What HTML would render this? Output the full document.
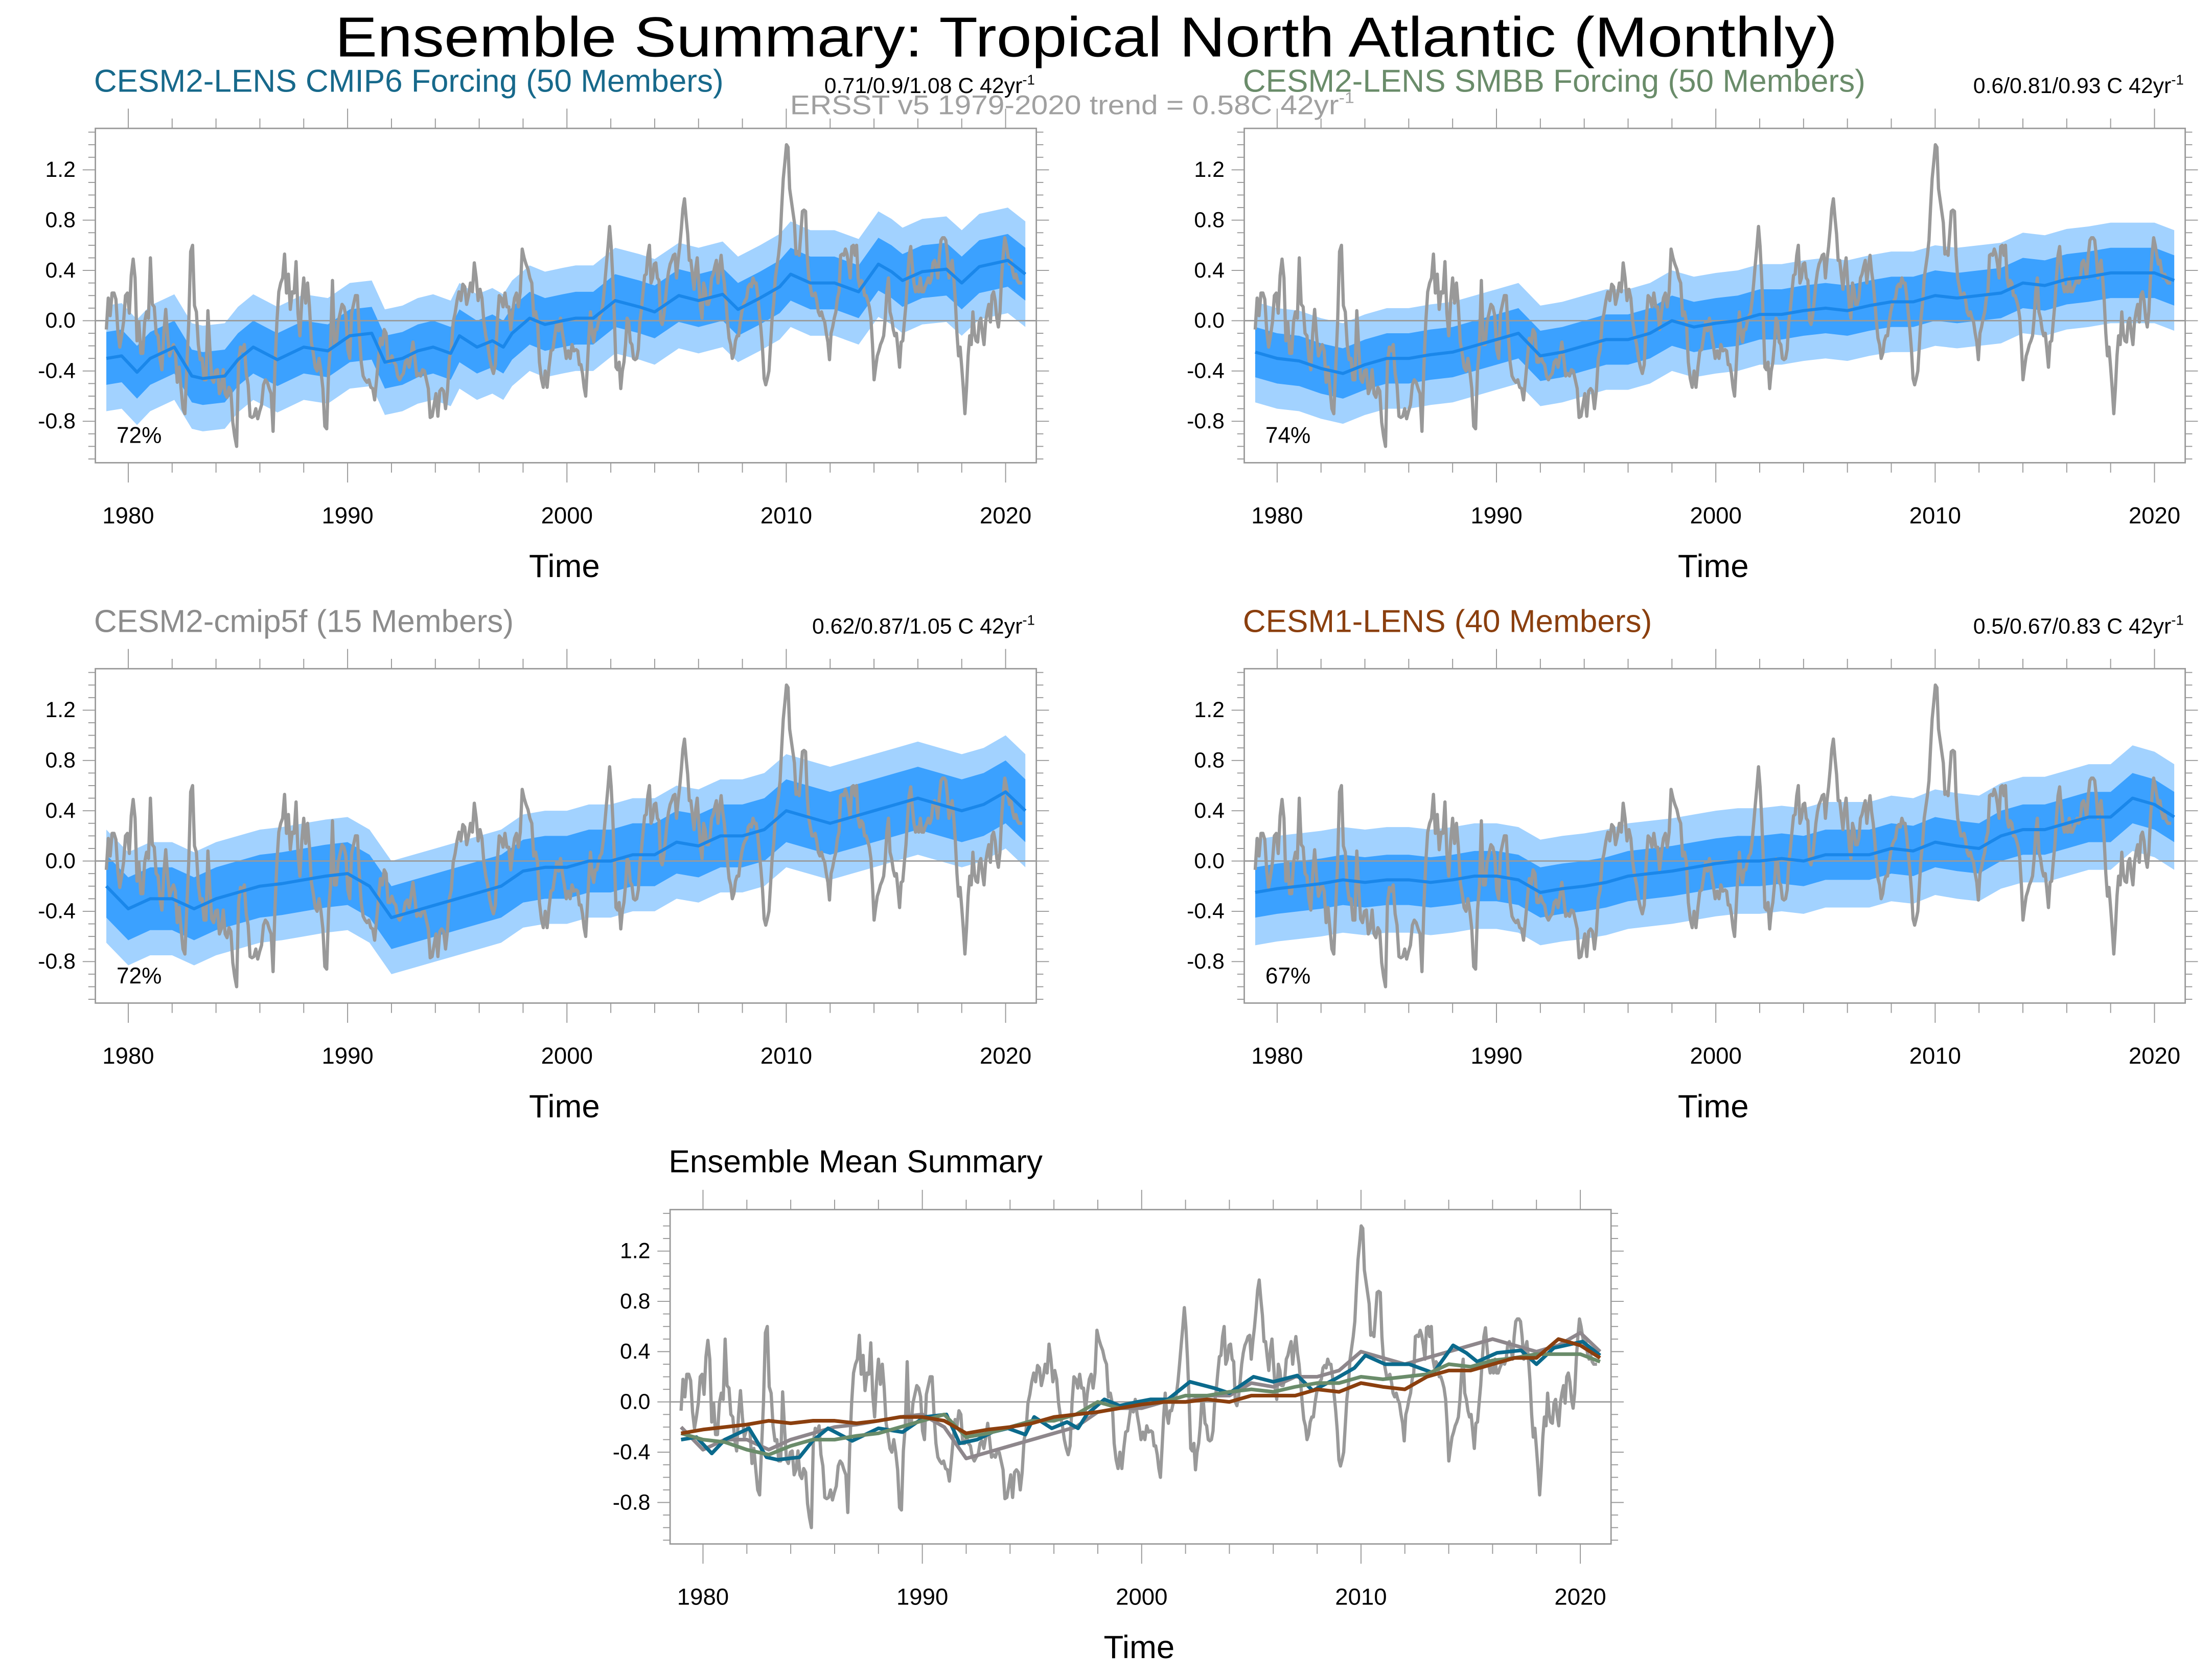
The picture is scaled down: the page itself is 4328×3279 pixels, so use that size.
<!DOCTYPE html>
<html><head><meta charset="utf-8">
<style>
html,body{margin:0;padding:0;background:#fff;}
svg{display:block;font-family:"Liberation Sans",Arial,sans-serif;}
</style></head>
<body>
<svg id="fig" xmlns="http://www.w3.org/2000/svg" width="4328" height="3279" viewBox="0 0 1568 1188" preserveAspectRatio="none">
<rect x="0" y="0" width="1568" height="1188" fill="#fff"/>
<text x="770" y="40" font-size="40" text-anchor="middle" textLength="1065" lengthAdjust="spacingAndGlyphs">Ensemble Summary: Tropical North Atlantic (Monthly)</text>
<text x="560" y="81" font-size="19" fill="#a0a0a0" textLength="400" lengthAdjust="spacingAndGlyphs">ERSST v5 1979-2020 trend = 0.58C 42yr<tspan font-size="11" dy="-8">-1</tspan></text>
<g id="panels"></g>
</svg>
<script>
// ---- data ----
const xTickLabels = ["1980","1990","2000","2010","2020"];
const yTickLabels = ["-0.8","-0.4","0.0","0.4","0.8","1.2"];
const obsEarly = [-0.07,0.18,0.04,0.22,0.22,0.17,-0.08,-0.21,-0.12,-0.01,0.2,0.22,0.06,0.36,0.49,0.34,-0.16,-0.01,-0.26,-0.26,-0.01,0.07,0.02,0.5,0.13,0.11,-0.1,-0.12,-0.3,-0.39,-0.1,0.09,-0.12,-0.28,-0.23,-0.19,-0.24,-0.49,-0.37,-0.54,-0.7,-0.74,-0.37,-0.01,0.55,0.6,0.12,0.07,-0.19,-0.31,-0.3,-0.47,-0.47,0.08,-0.21,-0.46,-0.49,-0.4,-0.39,-0.58,-0.54,-0.39,-0.58,-0.61,-0.53,-0.56,-0.81,-0.92,-1.0,-0.33,-0.21,-0.24,-0.19,-0.42,-0.51,-0.76,-0.77,-0.76,-0.7,-0.78,-0.72,-0.67,-0.51,-0.47,-0.49,-0.54,-0.58,-0.88,-0.37,-0.01,0.23,0.3,0.34,0.53,0.22,0.37,0.09,0.23,0.22,0.47,0.06,-0.12,0.16,0.34,0.14,0.3,0.11,-0.17,-0.26,-0.37,-0.4,-0.3,-0.4,-0.54,-0.84,-0.86,-0.39,-0.19,0.32,-0.19,-0.19,-0.01,0.06,0.13,0.11,0.04,-0.23,-0.3,0.06,0.13,0.2,0.2,-0.1,-0.33,-0.44,-0.47,-0.49,-0.47,-0.53,-0.54,-0.63,-0.47,-0.3,-0.14,-0.19,-0.07,-0.1,-0.33,-0.33,-0.28,-0.33,-0.35,-0.44,-0.47,-0.44,-0.42,-0.33,-0.31,-0.37,-0.28,-0.17,-0.3,-0.44,-0.42,-0.44,-0.39,-0.4,-0.47,-0.54,-0.77,-0.76,-0.67,-0.58,-0.76,-0.56,-0.54,-0.56,-0.7,-0.56,-0.3,-0.23,-0.01,0.06,0.16,0.23,0.16,0.29,0.27,0.13,0.2,0.3,0.23,0.46,0.34,0.16,0.25,0.18,-0.01,-0.12,-0.19,-0.3,-0.37,-0.42,-0.35,-0.01,0.2,0.18,0.11,0.22,0.11,0.11,-0.07,0.07,0.18,0.22,0.11,0.23,0.57,0.5,0.45,0.41,0.34,0.3,0.04,0.07,-0.01,-0.33,-0.46,-0.53,-0.4,-0.53,-0.37,-0.24,-0.23,-0.12,-0.01,-0.08,0.02,-0.1,-0.19,-0.3,-0.24,-0.3,-0.19,-0.24];
const obsLate = [-0.23,-0.24,-0.35,-0.35,-0.42,-0.53,-0.6,-0.37,-0.12,0.07,-0.1,-0.17,-0.07,-0.07,-0.01,0.04,0.06,0.16,0.3,0.45,0.59,0.75,0.59,0.34,0.02,-0.37,-0.39,-0.33,-0.54,-0.4,-0.33,-0.19,0.02,-0.01,-0.17,-0.19,-0.3,-0.31,-0.3,-0.23,-0.01,0.09,0.23,0.36,0.37,0.52,0.6,0.3,0.34,0.45,0.46,0.34,0.32,0.0,-0.03,0.04,0.16,0.3,0.39,0.45,0.48,0.52,0.53,0.34,0.48,0.59,0.73,0.89,0.97,0.82,0.69,0.48,0.48,0.36,0.25,0.41,0.5,0.3,0.11,0.02,0.3,0.25,0.13,0.13,0.18,0.34,0.37,0.43,0.48,0.3,0.43,0.52,0.39,0.3,0.16,-0.01,-0.14,-0.19,-0.3,-0.26,-0.16,-0.12,-0.12,-0.01,0.07,0.13,0.16,0.18,0.27,0.29,0.27,0.34,0.3,0.3,0.2,0.06,-0.07,-0.23,-0.46,-0.51,-0.46,-0.4,-0.19,0.02,0.14,0.34,0.43,0.52,0.64,0.9,1.13,1.26,1.4,1.38,1.05,0.96,0.87,0.78,0.53,0.55,0.52,0.69,0.87,0.88,0.87,0.52,0.34,0.27,0.2,0.2,0.22,0.16,0.07,0.04,0.07,0.02,-0.01,-0.1,-0.17,-0.31,-0.1,-0.05,0.02,0.07,0.18,0.23,0.52,0.53,0.52,0.57,0.53,0.45,0.34,0.59,0.6,0.52,0.6,0.34,0.27,0.32,0.3,0.2,0.2,0.16,0.11,0.02,-0.19,-0.47,-0.37,-0.28,-0.24,-0.19,-0.16,-0.12,0.02,0.23,0.34,0.07,0.02,-0.07,-0.12,-0.1,-0.23,-0.37,-0.17,-0.16,-0.01,0.13,0.34,0.52,0.59,0.43,0.3,0.23,0.27,0.23,0.34,0.23,0.23,0.27,0.3,0.34,0.3,0.34,0.46,0.48,0.43,0.34,0.52,0.64,0.66,0.66,0.64,0.52,0.34,0.43,0.48,0.34,0.16,-0.1,-0.28,-0.21,-0.37,-0.54,-0.74,-0.54,-0.28,-0.12,-0.19,0.07,-0.1,-0.16,-0.17,-0.01,0.02,-0.1,-0.19,-0.01,0.07,0.13,-0.01,0.2,0.23,0.16,0.02,-0.05,0.07,0.34,0.52,0.66,0.6,0.52,0.45,0.48,0.39,0.34,0.37,0.32,0.3,0.3,0.3];
const obsEarlySpan = [1979.0, 2000.32];
const obsLateSpan = [2000.42, 2020.76];

const cmip6Years = [1979,1979.7,1980.4,1981,1982.1,1982.9,1983.4,1984.4,1985,1985.7,1986.8,1988,1989.1,1990.1,1991.1,1991.7,1992.5,1993.2,1993.9,1994.7,1995.1,1995.9,1996.6,1997.1,1997.5,1998.3,1999,1999.8,2000.4,2001.2,2002.2,2003.3,2004,2005.1,2006,2007.1,2007.8,2008.8,2009.7,2010.2,2011.1,2012.2,2013.3,2014.2,2014.8,2015.3,2016.2,2017.3,2018,2018.8,2020.1,2020.9];
const cmip6Mean = [-0.3,-0.28,-0.41,-0.3,-0.21,-0.44,-0.46,-0.44,-0.31,-0.21,-0.31,-0.21,-0.24,-0.12,-0.1,-0.33,-0.3,-0.24,-0.21,-0.26,-0.12,-0.21,-0.16,-0.21,-0.1,0.02,-0.03,0.0,0.02,0.02,0.16,0.11,0.07,0.2,0.16,0.21,0.09,0.18,0.27,0.37,0.3,0.3,0.23,0.45,0.39,0.32,0.39,0.41,0.3,0.43,0.48,0.37];
const gridYears = [1979,1980,1981,1982,1983,1984,1985,1986,1987,1988,1989,1990,1991,1992,1993,1994,1995,1996,1997,1998,1999,2000,2001,2002,2003,2004,2005,2006,2007,2008,2009,2010,2011,2012,2013,2014,2015,2016,2017,2018,2019,2020,2020.9];
const smbbMean = [-0.25,-0.3,-0.32,-0.38,-0.42,-0.35,-0.3,-0.3,-0.27,-0.25,-0.2,-0.15,-0.1,-0.28,-0.25,-0.2,-0.15,-0.15,-0.1,0.0,-0.05,-0.02,0.0,0.05,0.05,0.08,0.1,0.08,0.12,0.15,0.15,0.2,0.18,0.2,0.22,0.3,0.28,0.33,0.35,0.38,0.38,0.38,0.32];
const cmip5fMean = [-0.2,-0.38,-0.3,-0.3,-0.38,-0.3,-0.25,-0.2,-0.18,-0.15,-0.12,-0.1,-0.2,-0.45,-0.4,-0.35,-0.3,-0.25,-0.2,-0.08,-0.05,-0.05,0.0,0.0,0.05,0.05,0.15,0.12,0.2,0.2,0.25,0.4,0.35,0.3,0.35,0.4,0.45,0.5,0.45,0.4,0.45,0.55,0.4];
const cesm1Mean = [-0.25,-0.22,-0.2,-0.18,-0.15,-0.17,-0.15,-0.15,-0.17,-0.15,-0.12,-0.12,-0.15,-0.25,-0.22,-0.2,-0.17,-0.12,-0.1,-0.08,-0.05,-0.02,0.0,0.0,0.02,0.0,0.05,0.05,0.05,0.1,0.08,0.15,0.12,0.1,0.2,0.25,0.25,0.3,0.35,0.35,0.5,0.45,0.35];
const innerHalfWidth = [0.21, 0.2, 0.25, 0.2];
const outerHalfWidth = [0.42, 0.4, 0.45, 0.42];
const panelTitles = ["CESM2-LENS CMIP6 Forcing (50 Members)","CESM2-LENS SMBB Forcing (50 Members)","CESM2-cmip5f (15 Members)","CESM1-LENS (40 Members)"];
const panelTrends = ["0.71/0.9/1.08 C 42yr","0.6/0.81/0.93 C 42yr","0.62/0.87/1.05 C 42yr","0.5/0.67/0.83 C 42yr"];
const panelPercents = ["72%","74%","72%","67%"];

// ---- layout ----
const NS = "http://www.w3.org/2000/svg";
const root = document.getElementById("panels");
const W = 667, H = 237, X0 = 1978.5, X1 = 2021.4, Y0 = -1.13, Y1 = 1.53;
const titleColors = ["#17698b","#6a8c6a","#8c8c8c","#8b3f0e"];
const summaryColors = ["#0b6a8c","#6a8c6a","#8e878c","#8b3f0e"];

function mk(tag, attrs, parent){
  const e = document.createElementNS(NS, tag);
  for (const k in attrs) e.setAttribute(k, attrs[k]);
  (parent||root).appendChild(e);
  return e;
}
function seriesPts(years, vals, sx, sy){
  return years.map((t,i)=>sx(t).toFixed(2)+","+sy(vals[i]).toFixed(2)).join(" ");
}
function spanYears(span, n){
  const out=[]; for(let i=0;i<n;i++) out.push(span[0]+(span[1]-span[0])*i/(n-1)); return out;
}
const obsY = spanYears(obsEarlySpan, obsEarly.length).concat(spanYears(obsLateSpan, obsLate.length));
const obsV = obsEarly.concat(obsLate);

function drawAxes(g, px, py, sx, sy){
  const box = mk("rect",{x:px,y:py,width:W,height:H,fill:"none",stroke:"#999","stroke-width":1},g);
  
  
  for (let k=-11;k<=15;k++){
    const v=k/10, y=sy(v); const major = (k%4===0);
    const L = major?9:5;
    const tl = mk("line",{x1:px-L,x2:px,y1:y,y2:y,stroke:"#999","stroke-width":0.7},g);
    
    
    const tr = mk("line",{x1:px+W,x2:px+W+L,y1:y,y2:y,stroke:"#999","stroke-width":0.7},g);
    
    
  }
  yTickLabels.forEach(lbl=>{
    const t = mk("text",{x:px-14,y:sy(parseFloat(lbl))+5,"font-size":15.5,"text-anchor":"end"},g);
    t.textContent = lbl;
    
    
  });
  for (let yr=1980; yr<=2020; yr+=2){
    const x=sx(yr), major=(yr%10===0), L=major?14:7;
    const tb = mk("line",{x1:x,x2:x,y1:py+H,y2:py+H+L,stroke:"#999","stroke-width":0.7},g);
    
    
    const tt = mk("line",{x1:x,x2:x,y1:py-L,y2:py,stroke:"#999","stroke-width":0.7},g);
    
    
  }
  xTickLabels.forEach(lbl=>{
    const t = mk("text",{x:sx(parseFloat(lbl)),y:py+H+43,"font-size":16.5,"text-anchor":"middle"},g);
    t.textContent = lbl;
    
    
  });
  const at = mk("text",{x:px+W/2-1,y:py+H+81,"font-size":23,"text-anchor":"middle"},g);
  at.textContent = "Time";
  
  
}
function zeroLine(g, px, sy){
  const z = mk("line",{x1:px,x2:px+W,y1:sy(0),y2:sy(0),stroke:"#9a9a9a","stroke-width":1},g);
  
  
}
function band(g, years, mean, hw, fill, sx, sy, name){
  const up = years.map((t,i)=>sx(t).toFixed(2)+","+sy(mean[i]+hw).toFixed(2));
  const dn = years.map((t,i)=>sx(t).toFixed(2)+","+sy(mean[i]-hw).toFixed(2)).reverse();
  const p = mk("polygon",{points:up.concat(dn).join(" "),fill:fill,stroke:"none"},g);
  
  
}

const panelOrigins = [[67.6,91],[882,91],[67.6,474],[882,474]];
const panelMeans = [[cmip6Years,cmip6Mean],[gridYears,smbbMean],[gridYears,cmip5fMean],[gridYears,cesm1Mean]];

panelOrigins.forEach((o,pi)=>{
  const px=o[0], py=o[1];
  const g = mk("g",{});
  
  
  const sx = t => px + (t-X0)/(X1-X0)*W;
  const sy = v => py + H - (v-Y0)/(Y1-Y0)*H;
  const my = panelMeans[pi][0], mv = panelMeans[pi][1];
  band(g, my, mv, outerHalfWidth[pi], "#a2d2ff", sx, sy, "outer-spread-band");
  band(g, my, mv, innerHalfWidth[pi], "#3ba1ff", sx, sy, "inner-spread-band");
  zeroLine(g, px, sy);
  const ob = mk("polyline",{points:seriesPts(obsY,obsV,sx,sy),fill:"none",stroke:"#999999","stroke-width":2.3,"stroke-linejoin":"round"},g);
  
  
  const ml = mk("polyline",{points:seriesPts(my,mv,sx,sy),fill:"none",stroke:"#1a87ea","stroke-width":2.2,"stroke-linejoin":"round"},g);
  
  
  drawAxes(g, px, py, sx, sy);
  const tt = mk("text",{x:px-1,y:py-26,"font-size":22.5,fill:titleColors[pi]},g);
  tt.textContent = panelTitles[pi];
  
  
  const tr = mk("text",{x:px+W-1,y:py-25,"font-size":15.5,"text-anchor":"end"},g);
  tr.textContent = panelTrends[pi];
  const sup = mk("tspan",{"font-size":10,dy:-6},tr);
  sup.textContent = "-1";
  
  
  const pc = mk("text",{x:px+15,y:py+H-14,"font-size":16},g);
  pc.textContent = panelPercents[pi];
  
  
});

// summary panel
(function(){
  const px=475, py=857.4;
  const g = mk("g",{});
  
  
  const sx = t => px + (t-X0)/(X1-X0)*W;
  const sy = v => py + H - (v-Y0)/(Y1-Y0)*H;
  zeroLine(g, px, sy);
  const ob = mk("polyline",{points:seriesPts(obsY,obsV,sx,sy),fill:"none",stroke:"#999999","stroke-width":2.3,"stroke-linejoin":"round"},g);
  
  
  const order=[2,0,1,3];
  order.forEach(i=>{
    const l = mk("polyline",{points:seriesPts(panelMeans[i][0],panelMeans[i][1],sx,sy),fill:"none",stroke:summaryColors[i],"stroke-width":2.6,"stroke-linejoin":"round"},g);
    
    
  });
  drawAxes(g, px, py, sx, sy);
  const t = mk("text",{x:474,y:831,"font-size":22.5},g);
  t.textContent = "Ensemble Mean Summary";
  
  
})();
</script>
</body></html>
